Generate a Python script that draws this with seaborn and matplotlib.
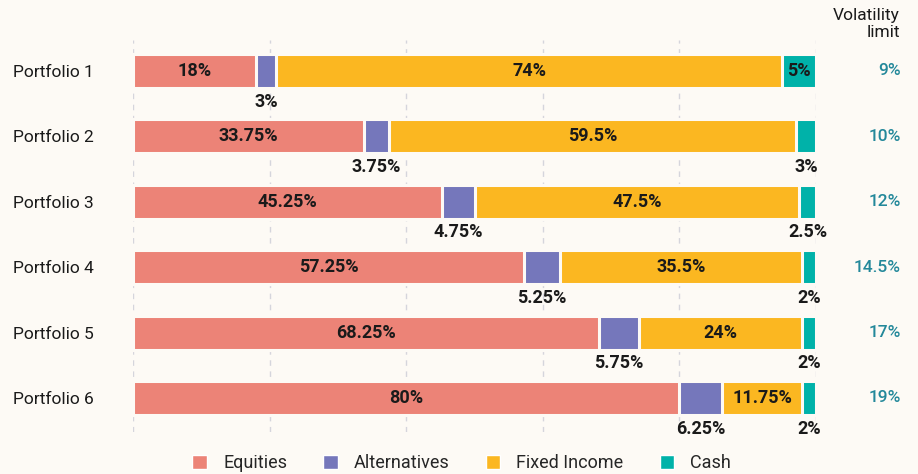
import numpy as np
import pandas as pd
import seaborn as sns
import matplotlib.pyplot as plt
from matplotlib.patches import Patch

portfolios = ['Portfolio 1', 'Portfolio 2', 'Portfolio 3', 'Portfolio 4', 'Portfolio 5', 'Portfolio 6']
equities = [18, 33.75, 45.25, 57.25, 68.25, 80]
alternatives = [3, 3.75, 4.75, 5.25, 5.75, 6.25]
fixed_income = [74, 59.5, 47.5, 35.5, 24, 11.75]
cash = [5, 3, 2.5, 2, 2, 2]
vol_limit = ['9%', '10%', '12%', '14.5%', '17%', '19%']

bg = '#fdfaf5'
colors = {'Equities': '#ec8377', 'Alternatives': '#7577bb',
          'Fixed Income': '#fbb721', 'Cash': '#00b2a9'}

sns.set_style('white')
plt.rcParams['font.family'] = ['Roboto', 'DejaVu Sans']

df = pd.DataFrame({'portfolio': portfolios, 'Equities': equities,
                   'Alternatives': alternatives, 'Fixed Income': fixed_income,
                   'Cash': cash})
cols = ['Equities', 'Alternatives', 'Fixed Income', 'Cash']
cum = df[cols].cumsum(axis=1)

fig = plt.figure(figsize=(9.18, 4.74), dpi=100, facecolor=bg)
ax = fig.add_axes([0.1449, 0.0886, 0.889 - 0.1449, 0.827])
ax.set_facecolor(bg)

# stacked bars: draw cumulative totals from widest to narrowest
for c in reversed(cols):
    sns.barplot(x=cum[c], y=df['portfolio'], color=colors[c], orient='h',
                width=0.52, edgecolor=bg, linewidth=2.2, saturation=1, ax=ax)

ax.set_xlim(0, 100)
ax.set_ylim(5.52, -0.47)
ax.set_xticks([0, 20, 40, 60, 80, 100])
ax.xaxis.grid(True, color='#d5d5dc', linestyle=(0, (4, 4)), linewidth=1)
ax.set_axisbelow(True)
ax.tick_params(axis='x', bottom=False, labelbottom=False)
ax.tick_params(axis='y', left=False, pad=25, labelsize=12.5, labelcolor='#1a1a1a')
ax.set_xlabel('')
ax.set_ylabel('')
for s in ax.spines.values():
    s.set_visible(False)

lab_kw = dict(fontsize=13, fontweight='bold', color='#1a1a1a', ha='center', va='center')
for i in range(len(portfolios)):
    starts = [0] + list(cum.iloc[i, :-1])
    vals = [equities[i], alternatives[i], fixed_income[i], cash[i]]
    for j, v in enumerate(vals):
        xc = starts[j] + v / 2
        txt = f'{v:g}%'
        if j == 1 or (j == 3 and v < 4):
            ax.text(xc, i + 0.47, txt, **lab_kw)
        else:
            ax.text(xc, i, txt, **lab_kw)
    ax.text(1.124, i, vol_limit[i], transform=ax.get_yaxis_transform(),
            fontsize=12.5, fontweight='medium', color='#23889a', ha='right', va='center')

fig.text(900 / 918, 1 - 8 / 474, 'Volatility\nlimit', ha='right', va='top',
         fontsize=12.5, color='#1a1a1a', linespacing=1.2)

handles = [Patch(facecolor=colors[c], label=c) for c in cols]
fig.legend(handles=handles, loc='center', bbox_to_anchor=(0.503, 1 - 463 / 474),
           ncol=4, frameon=False, fontsize=13, handlelength=0.8, handleheight=0.8,
           columnspacing=2.0, handletextpad=0.9, borderpad=0)

fig.savefig('out.png', dpi=100, facecolor=bg)
